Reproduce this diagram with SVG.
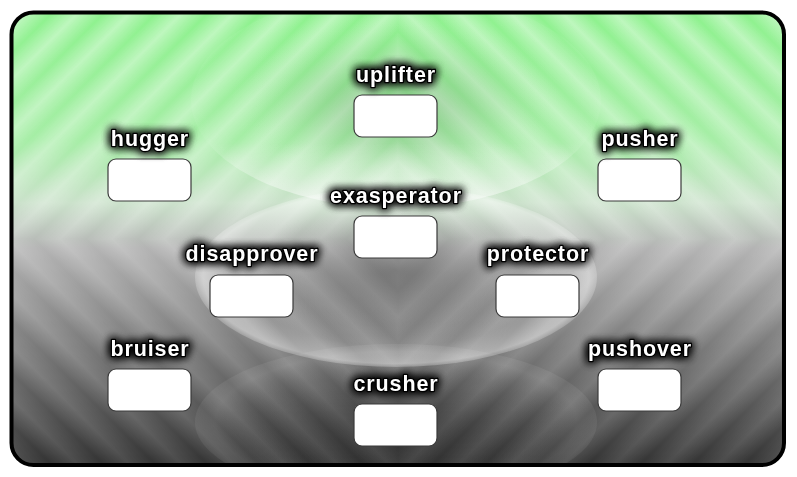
<svg xmlns="http://www.w3.org/2000/svg" width="797" height="477" viewBox="0 0 797 477">
<defs>
<style>
.box{fill:#fff;stroke:#3a3a3a;stroke-width:1.2}
.lbl{font-family:"Liberation Sans",Arial,sans-serif;font-weight:bold;font-size:21.5px;letter-spacing:0.9px;fill:#fff;stroke:#000;stroke-width:2.6;paint-order:stroke;stroke-linejoin:round;text-anchor:middle;filter:url(#glow)}
.st0{stop-color:#fff;stop-opacity:0}
.st1{stop-color:#fff;stop-opacity:0.42}
</style>
<linearGradient id="bg" x1="0" y1="12" x2="0" y2="466" gradientUnits="userSpaceOnUse">
<stop offset="0" stop-color="#8ef28e"/>
<stop offset="0.28" stop-color="#a6eea6"/>
<stop offset="0.42" stop-color="#cbe2cb"/>
<stop offset="0.52" stop-color="#b4b4b4"/>
<stop offset="0.68" stop-color="#8a8a8a"/>
<stop offset="0.86" stop-color="#5a5a5a"/>
<stop offset="1" stop-color="#333"/>
</linearGradient>
<linearGradient id="stTL" x1="398" y1="239" x2="372" y2="213" gradientUnits="userSpaceOnUse" spreadMethod="repeat">
<stop offset="0" class="st0"/><stop offset="0.5" class="st1"/><stop offset="1" class="st0"/>
</linearGradient>
<linearGradient id="stTR" x1="398" y1="239" x2="424" y2="213" gradientUnits="userSpaceOnUse" spreadMethod="repeat">
<stop offset="0" class="st0"/><stop offset="0.5" class="st1"/><stop offset="1" class="st0"/>
</linearGradient>
<linearGradient id="stBL" x1="398" y1="239" x2="372" y2="265" gradientUnits="userSpaceOnUse" spreadMethod="repeat">
<stop offset="0" class="st0"/><stop offset="0.5" class="st1"/><stop offset="1" class="st0"/>
</linearGradient>
<linearGradient id="stBR" x1="398" y1="239" x2="424" y2="265" gradientUnits="userSpaceOnUse" spreadMethod="repeat">
<stop offset="0" class="st0"/><stop offset="0.5" class="st1"/><stop offset="1" class="st0"/>
</linearGradient>
<linearGradient id="fade" x1="0" y1="12" x2="0" y2="466" gradientUnits="userSpaceOnUse">
<stop offset="0" stop-color="#fff"/><stop offset="0.4" stop-color="#bbb"/><stop offset="0.55" stop-color="#666"/><stop offset="1" stop-color="#444"/>
</linearGradient>
<mask id="stmask" maskUnits="userSpaceOnUse" x="0" y="0" width="797" height="477">
<rect x="0" y="0" width="797" height="477" fill="url(#fade)"/>
</mask>
<clipPath id="frame"><rect x="11.5" y="12.5" width="772.5" height="452.5" rx="22"/></clipPath>
<radialGradient id="eTop" cx="396" cy="100" r="205" fx="396" fy="115" gradientUnits="userSpaceOnUse" gradientTransform="translate(396 100) scale(1 0.527) translate(-396 -100)">
<stop offset="0" stop-color="#000" stop-opacity="0.16"/>
<stop offset="0.55" stop-color="#000" stop-opacity="0.03"/>
<stop offset="0.85" stop-color="#fff" stop-opacity="0"/>
<stop offset="1" stop-color="#fff" stop-opacity="0.05"/>
</radialGradient>
<linearGradient id="eTopRim" x1="0" y1="-8" x2="0" y2="208" gradientUnits="userSpaceOnUse">
<stop offset="0" stop-color="#fff" stop-opacity="0"/>
<stop offset="0.7" stop-color="#fff" stop-opacity="0"/>
<stop offset="0.95" stop-color="#fff" stop-opacity="0.45"/>
<stop offset="1" stop-color="#fff" stop-opacity="0.25"/>
</linearGradient>
<radialGradient id="eMid" cx="396" cy="277" r="201" fx="396" fy="262" gradientUnits="userSpaceOnUse" gradientTransform="translate(396 277) scale(1 0.45) translate(-396 -277)">
<stop offset="0" stop-color="#000" stop-opacity="0.3"/>
<stop offset="0.5" stop-color="#000" stop-opacity="0.08"/>
<stop offset="0.78" stop-color="#fff" stop-opacity="0.1"/>
<stop offset="0.96" stop-color="#fff" stop-opacity="0.42"/>
<stop offset="1" stop-color="#fff" stop-opacity="0.2"/>
</radialGradient>
<radialGradient id="eBot" cx="396" cy="422" r="201" fx="396" fy="420" gradientUnits="userSpaceOnUse" gradientTransform="translate(396 422) scale(1 0.39) translate(-396 -422)">
<stop offset="0" stop-color="#000" stop-opacity="0.25"/>
<stop offset="0.6" stop-color="#000" stop-opacity="0.05"/>
<stop offset="0.9" stop-color="#fff" stop-opacity="0.1"/>
<stop offset="1" stop-color="#fff" stop-opacity="0.06"/>
</radialGradient>
<filter id="glow" x="-30%" y="-80%" width="160%" height="260%">
<feGaussianBlur in="SourceAlpha" stdDeviation="5" result="b"/>
<feFlood flood-color="#000" flood-opacity="0.9"/>
<feComposite in2="b" operator="in" result="s"/>
<feMerge><feMergeNode in="s"/><feMergeNode in="s"/><feMergeNode in="s"/><feMergeNode in="SourceGraphic"/></feMerge>
</filter>
</defs>

<g id="background" clip-path="url(#frame)">
<rect x="0" y="0" width="797" height="477" fill="url(#bg)"/>
<g mask="url(#stmask)">
<rect x="0" y="0" width="398" height="239" fill="url(#stTL)"/>
<rect x="398" y="0" width="399" height="239" fill="url(#stTR)"/>
<rect x="0" y="239" width="398" height="238" fill="url(#stBL)"/>
<rect x="398" y="239" width="399" height="238" fill="url(#stBR)"/>
</g>
<ellipse cx="396" cy="422" rx="201" ry="78" fill="url(#eBot)"/>
<ellipse cx="396" cy="100" rx="205" ry="108" fill="url(#eTop)"/>
<ellipse cx="396" cy="100" rx="205" ry="108" fill="url(#eTopRim)"/>
<ellipse cx="396" cy="277" rx="201" ry="90" fill="url(#eMid)"/>
</g>

<g id="connectors"></g>

<g id="node-uplifter"><rect class="box" x="354" y="95" width="83" height="42" rx="8"/><text class="lbl" x="396" y="82">uplifter</text></g>
<g id="node-hugger"><rect class="box" x="108" y="159" width="83" height="42" rx="8"/><text class="lbl" x="150" y="146">hugger</text></g>
<g id="node-pusher"><rect class="box" x="598" y="159" width="83" height="42" rx="8"/><text class="lbl" x="640" y="146">pusher</text></g>
<g id="node-exasperator"><rect class="box" x="354" y="216" width="83" height="42" rx="8"/><text class="lbl" x="396" y="203">exasperator</text></g>
<g id="node-disapprover"><rect class="box" x="210" y="275" width="83" height="42" rx="8"/><text class="lbl" x="252" y="261">disapprover</text></g>
<g id="node-protector"><rect class="box" x="496" y="275" width="83" height="42" rx="8"/><text class="lbl" x="538" y="261">protector</text></g>
<g id="node-bruiser"><rect class="box" x="108" y="369" width="83" height="42" rx="8"/><text class="lbl" x="150" y="356">bruiser</text></g>
<g id="node-pushover"><rect class="box" x="598" y="369" width="83" height="42" rx="8"/><text class="lbl" x="640" y="356">pushover</text></g>
<g id="node-crusher"><rect class="box" x="354" y="404" width="83" height="42" rx="8"/><text class="lbl" x="396" y="391">crusher</text></g>

<rect id="frame-border" x="11.5" y="12.5" width="772.5" height="452.5" rx="22" fill="none" stroke="#000" stroke-width="4"/>
</svg>
